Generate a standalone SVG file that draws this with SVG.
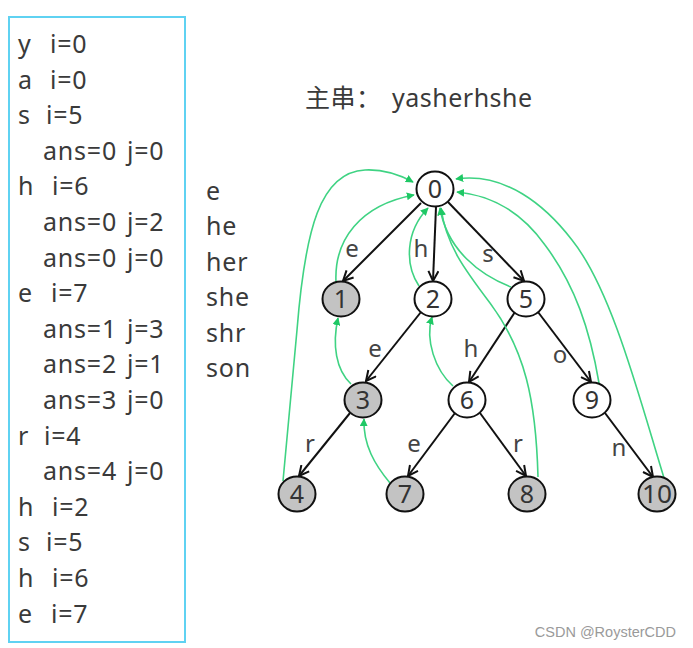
<svg xmlns="http://www.w3.org/2000/svg" width="693" height="648" viewBox="0 0 693 648">
<style>
.t{font-family:"Noto Sans","Noto Sans CJK SC",sans-serif;font-size:25px;fill:#3a3a3a;letter-spacing:0.8px}
.lbl{font-family:"Noto Sans",sans-serif;font-size:24px;fill:#444}
.nd{fill:#fff;stroke:#111;stroke-width:2}
.g{fill:#c3c3c3}
.nt{font-family:"Noto Sans",sans-serif;font-size:25px;fill:#333;text-anchor:middle}
.e{fill:none;stroke:#111;stroke-width:2;marker-end:url(#ah)}
.f{fill:none;stroke:#3fd383;stroke-width:1.6;marker-end:url(#gh)}
</style>
<defs>
<marker id="ah" viewBox="0 0 12 12" refX="11" refY="6" markerWidth="12" markerHeight="12" markerUnits="userSpaceOnUse" orient="auto">
<path d="M1,1 L11,6 L1,11" fill="none" stroke="#111" stroke-width="2"/>
</marker>
<marker id="gh" viewBox="0 0 10 10" refX="9" refY="5" markerWidth="8" markerHeight="8" markerUnits="userSpaceOnUse" orient="auto">
<path d="M0,0 L10,5 L0,10 Z" fill="#1fc865"/>
</marker>
</defs>
<rect x="9" y="17" width="176" height="625" fill="none" stroke="#5fd2f2" stroke-width="2"/>
<g id="log">
<text class="t" y="53"><tspan x="18">y</tspan><tspan x="50">i=0</tspan></text>
<text class="t" y="88.6"><tspan x="18">a</tspan><tspan x="50">i=0</tspan></text>
<text class="t" y="124.2"><tspan x="18">s</tspan><tspan x="46">i=5</tspan></text>
<text class="t" y="159.8"><tspan x="43">ans=0</tspan><tspan x="127">j=0</tspan></text>
<text class="t" y="195.4"><tspan x="18">h</tspan><tspan x="52">i=6</tspan></text>
<text class="t" y="231"><tspan x="43">ans=0</tspan><tspan x="127">j=2</tspan></text>
<text class="t" y="266.6"><tspan x="43">ans=0</tspan><tspan x="127">j=0</tspan></text>
<text class="t" y="302.2"><tspan x="18">e</tspan><tspan x="51">i=7</tspan></text>
<text class="t" y="337.8"><tspan x="43">ans=1</tspan><tspan x="127">j=3</tspan></text>
<text class="t" y="373.4"><tspan x="43">ans=2</tspan><tspan x="127">j=1</tspan></text>
<text class="t" y="409"><tspan x="43">ans=3</tspan><tspan x="127">j=0</tspan></text>
<text class="t" y="444.6"><tspan x="18">r</tspan><tspan x="44">i=4</tspan></text>
<text class="t" y="480.2"><tspan x="43">ans=4</tspan><tspan x="127">j=0</tspan></text>
<text class="t" y="515.8"><tspan x="18">h</tspan><tspan x="52">i=2</tspan></text>
<text class="t" y="551.4"><tspan x="18">s</tspan><tspan x="46">i=5</tspan></text>
<text class="t" y="587"><tspan x="18">h</tspan><tspan x="52">i=6</tspan></text>
<text class="t" y="622.6"><tspan x="18">e</tspan><tspan x="51">i=7</tspan></text>
</g>
<g id="patterns">
<text class="t" x="206" y="200">e</text>
<text class="t" x="206" y="235.4">he</text>
<text class="t" x="206" y="270.8">her</text>
<text class="t" x="206" y="306.2">she</text>
<text class="t" x="206" y="341.6">shr</text>
<text class="t" x="206" y="377">son</text>
</g>
<text id="title" class="t" x="305" y="107" style="letter-spacing:0.5px">主串：<tspan x="392">yasherhshe</tspan></text>
<g id="connectors">
<path class="e" d="M421,203 L343,281"/>
<path class="e" d="M436,207 L433,281"/>
<path class="e" d="M448,202 L524,281"/>
<path class="e" d="M421,312 L366,381"/>
<path class="e" d="M515,312 L469,382"/>
<path class="e" d="M538,312 L591,382"/>
<path class="e" d="M350,413 L299,476"/>
<path class="e" d="M455,413 L408,476"/>
<path class="e" d="M480,413 L526,476"/>
<path class="e" d="M605,413 L653,477"/>
<path class="f" d="M336,282 C334,240 360,205 414,195"/>
<path class="f" d="M283,481 L297,330 C305,230 320,172 365,170 C385,169 400,175 413,182"/>
<path class="f" d="M419,286 C405,265 405,232 428,208"/>
<path class="f" d="M351,384 C336,370 332,345 338,318"/>
<path class="f" d="M390,483 C375,465 363,445 364,419"/>
<path class="f" d="M453,386 C435,370 425,340 432,317"/>
<path class="f" d="M511,287 C480,275 447,250 440,208"/>
<path class="f" d="M538,477 C536,400 525,350 490,303 C465,270 446,245 441,208"/>
<path class="f" d="M599,383 C590,330 575,285 545,245 C520,210 490,195 457,192"/>
<path class="f" d="M664,478 C640,400 612,290 572,240 C545,205 505,172 456,179"/>
</g>
<g id="n0"><ellipse class="nd" cx="435" cy="189" rx="18.5" ry="17.5"/><text class="nt" x="435" y="198">0</text></g>
<g id="n1"><ellipse class="nd g" cx="341" cy="299" rx="18.5" ry="17.5"/><text class="nt" x="341" y="308">1</text></g>
<g id="n2"><ellipse class="nd" cx="433" cy="299" rx="18.5" ry="17.5"/><text class="nt" x="433" y="308">2</text></g>
<g id="n5"><ellipse class="nd" cx="526" cy="299" rx="18.5" ry="17.5"/><text class="nt" x="526" y="308">5</text></g>
<g id="n3"><ellipse class="nd g" cx="363" cy="400" rx="18.5" ry="17.5"/><text class="nt" x="363" y="409">3</text></g>
<g id="n6"><ellipse class="nd" cx="467" cy="400" rx="18.5" ry="17.5"/><text class="nt" x="467" y="409">6</text></g>
<g id="n9"><ellipse class="nd" cx="592" cy="400" rx="18.5" ry="17.5"/><text class="nt" x="592" y="409">9</text></g>
<g id="n4"><ellipse class="nd g" cx="297" cy="494" rx="18.5" ry="17.5"/><text class="nt" x="297" y="503">4</text></g>
<g id="n7"><ellipse class="nd g" cx="405" cy="494" rx="18.5" ry="17.5"/><text class="nt" x="405" y="503">7</text></g>
<g id="n8"><ellipse class="nd g" cx="527" cy="494" rx="18.5" ry="17.5"/><text class="nt" x="527" y="503">8</text></g>
<g id="n10"><ellipse class="nd g" cx="657" cy="494" rx="18.5" ry="17.5"/><text class="nt" x="657" y="503" textLength="30" lengthAdjust="spacingAndGlyphs">10</text></g>
<g id="labels">
<text class="lbl" x="352" y="257" text-anchor="middle">e</text>
<text class="lbl" x="421" y="257" text-anchor="middle">h</text>
<text class="lbl" x="488" y="262" text-anchor="middle">s</text>
<text class="lbl" x="375" y="357" text-anchor="middle">e</text>
<text class="lbl" x="471" y="357" text-anchor="middle">h</text>
<text class="lbl" x="560" y="363" text-anchor="middle">o</text>
<text class="lbl" x="310" y="452" text-anchor="middle">r</text>
<text class="lbl" x="414" y="452" text-anchor="middle">e</text>
<text class="lbl" x="518" y="452" text-anchor="middle">r</text>
<text class="lbl" x="619" y="456" text-anchor="middle">n</text>
</g>
<text x="676" y="637" text-anchor="end" font-family="Liberation Sans, Arial, sans-serif" font-size="14.5" fill="#9a9a9a">CSDN @RoysterCDD</text>
</svg>
